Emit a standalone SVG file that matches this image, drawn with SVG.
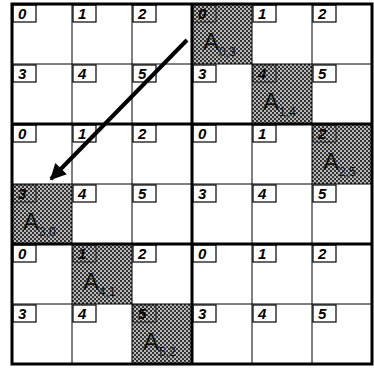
<svg xmlns="http://www.w3.org/2000/svg" width="374" height="368" viewBox="0 0 374 368">
<style>
.thin{stroke:#000;stroke-width:1;fill:none}
.thick{stroke:#000;stroke-width:3;fill:none}
.box{fill:#fff;stroke:#000;stroke-width:1.2}
.sbox{fill:none;stroke:#222;stroke-width:1}
.lbl{font-family:"Liberation Sans",Arial,sans-serif;font-style:italic;font-weight:bold;font-size:15px;fill:#000}
.big{font-family:"Liberation Sans",Arial,sans-serif;font-size:24px;fill:#111}
.sub{font-family:"Liberation Sans",Arial,sans-serif;font-size:12px;fill:#111}
.shade{fill:url(#dots)}
</style>
<defs>
<pattern id="dots" width="4" height="4" patternUnits="userSpaceOnUse">
<rect width="4" height="4" fill="#b8b8b8"/>
<rect width="2" height="2" fill="#333"/>
<rect x="2" y="2" width="2" height="2" fill="#333"/>
</pattern>
<marker id="ah" viewBox="0 0 10 10" refX="9" refY="5" markerWidth="6.5" markerHeight="4" markerUnits="strokeWidth" orient="auto">
<path d="M0,0 L10,5 L0,10 z" fill="#000"/>
</marker>
</defs>
<rect width="374" height="368" fill="#fff"/>

<!-- shaded cells -->
<g id="cell-0-3"><rect class="shade" x="192" y="4" width="60" height="60"/><rect class="sbox" x="193" y="5" width="23" height="17"/><text class="lbl" x="198" y="19">0</text><text class="big" x="203" y="50">A</text><text class="sub" x="219" y="56">0,3</text></g>
<g id="cell-1-4"><rect class="shade" x="252" y="64" width="60" height="60"/><rect class="sbox" x="253" y="65" width="23" height="17"/><text class="lbl" x="258" y="79">4</text><text class="big" x="263" y="110">A</text><text class="sub" x="279" y="116">1,4</text></g>
<g id="cell-2-5"><rect class="shade" x="312" y="124" width="60" height="60"/><rect class="sbox" x="313" y="125" width="23" height="17"/><text class="lbl" x="318" y="139">2</text><text class="big" x="323" y="170">A</text><text class="sub" x="339" y="176">2,5</text></g>
<g id="cell-3-0"><rect class="shade" x="12" y="184" width="60" height="60"/><rect class="sbox" x="13" y="185" width="23" height="17"/><text class="lbl" x="18" y="199">3</text><text class="big" x="23" y="230">A</text><text class="sub" x="39" y="236">3,0</text></g>
<g id="cell-4-1"><rect class="shade" x="72" y="244" width="60" height="60"/><rect class="sbox" x="73" y="245" width="23" height="17"/><text class="lbl" x="78" y="259">1</text><text class="big" x="83" y="290">A</text><text class="sub" x="99" y="296">4,1</text></g>
<g id="cell-5-2"><rect class="shade" x="132" y="304" width="60" height="60"/><rect class="sbox" x="133" y="305" width="23" height="17"/><text class="lbl" x="138" y="319">5</text><text class="big" x="143" y="350">A</text><text class="sub" x="159" y="356">5,2</text></g>

<!-- plain cells -->
<g id="cell-0-0"><rect class="box" x="13" y="5" width="23" height="17"/><text class="lbl" x="18" y="19">0</text></g>
<g id="cell-0-1"><rect class="box" x="73" y="5" width="23" height="17"/><text class="lbl" x="78" y="19">1</text></g>
<g id="cell-0-2"><rect class="box" x="133" y="5" width="23" height="17"/><text class="lbl" x="138" y="19">2</text></g>
<g id="cell-0-4"><rect class="box" x="253" y="5" width="23" height="17"/><text class="lbl" x="258" y="19">1</text></g>
<g id="cell-0-5"><rect class="box" x="313" y="5" width="23" height="17"/><text class="lbl" x="318" y="19">2</text></g>

<g id="cell-1-0"><rect class="box" x="13" y="65" width="23" height="17"/><text class="lbl" x="18" y="79">3</text></g>
<g id="cell-1-1"><rect class="box" x="73" y="65" width="23" height="17"/><text class="lbl" x="78" y="79">4</text></g>
<g id="cell-1-2"><rect class="box" x="133" y="65" width="23" height="17"/><text class="lbl" x="138" y="79">5</text></g>
<g id="cell-1-3"><rect class="box" x="193" y="65" width="23" height="17"/><text class="lbl" x="198" y="79">3</text></g>
<g id="cell-1-5"><rect class="box" x="313" y="65" width="23" height="17"/><text class="lbl" x="318" y="79">5</text></g>

<g id="cell-2-0"><rect class="box" x="13" y="125" width="23" height="17"/><text class="lbl" x="18" y="139">0</text></g>
<g id="cell-2-1"><rect class="box" x="73" y="125" width="23" height="17"/><text class="lbl" x="78" y="139">1</text></g>
<g id="cell-2-2"><rect class="box" x="133" y="125" width="23" height="17"/><text class="lbl" x="138" y="139">2</text></g>
<g id="cell-2-3"><rect class="box" x="193" y="125" width="23" height="17"/><text class="lbl" x="198" y="139">0</text></g>
<g id="cell-2-4"><rect class="box" x="253" y="125" width="23" height="17"/><text class="lbl" x="258" y="139">1</text></g>

<g id="cell-3-1"><rect class="box" x="73" y="185" width="23" height="17"/><text class="lbl" x="78" y="199">4</text></g>
<g id="cell-3-2"><rect class="box" x="133" y="185" width="23" height="17"/><text class="lbl" x="138" y="199">5</text></g>
<g id="cell-3-3"><rect class="box" x="193" y="185" width="23" height="17"/><text class="lbl" x="198" y="199">3</text></g>
<g id="cell-3-4"><rect class="box" x="253" y="185" width="23" height="17"/><text class="lbl" x="258" y="199">4</text></g>
<g id="cell-3-5"><rect class="box" x="313" y="185" width="23" height="17"/><text class="lbl" x="318" y="199">5</text></g>

<g id="cell-4-0"><rect class="box" x="13" y="245" width="23" height="17"/><text class="lbl" x="18" y="259">0</text></g>
<g id="cell-4-2"><rect class="box" x="133" y="245" width="23" height="17"/><text class="lbl" x="138" y="259">2</text></g>
<g id="cell-4-3"><rect class="box" x="193" y="245" width="23" height="17"/><text class="lbl" x="198" y="259">0</text></g>
<g id="cell-4-4"><rect class="box" x="253" y="245" width="23" height="17"/><text class="lbl" x="258" y="259">1</text></g>
<g id="cell-4-5"><rect class="box" x="313" y="245" width="23" height="17"/><text class="lbl" x="318" y="259">2</text></g>

<g id="cell-5-0"><rect class="box" x="13" y="305" width="23" height="17"/><text class="lbl" x="18" y="319">3</text></g>
<g id="cell-5-1"><rect class="box" x="73" y="305" width="23" height="17"/><text class="lbl" x="78" y="319">4</text></g>
<g id="cell-5-3"><rect class="box" x="193" y="305" width="23" height="17"/><text class="lbl" x="198" y="319">3</text></g>
<g id="cell-5-4"><rect class="box" x="253" y="305" width="23" height="17"/><text class="lbl" x="258" y="319">4</text></g>
<g id="cell-5-5"><rect class="box" x="313" y="305" width="23" height="17"/><text class="lbl" x="318" y="319">5</text></g>

<!-- grid lines -->
<g id="grid">
<path class="thin" d="M72,4V364 M132,4V364 M252,4V364 M312,4V364 M12,64H372 M12,184H372 M12,304H372"/>
<path class="thick" d="M192,4V364 M12,124H372 M12,244H372"/>
<rect class="thick" x="12" y="4" width="360" height="360"/>
</g>

<g id="connectors">
<line x1="187" y1="40" x2="51" y2="179" stroke="#000" stroke-width="4" marker-end="url(#ah)"/>
</g>
</svg>
